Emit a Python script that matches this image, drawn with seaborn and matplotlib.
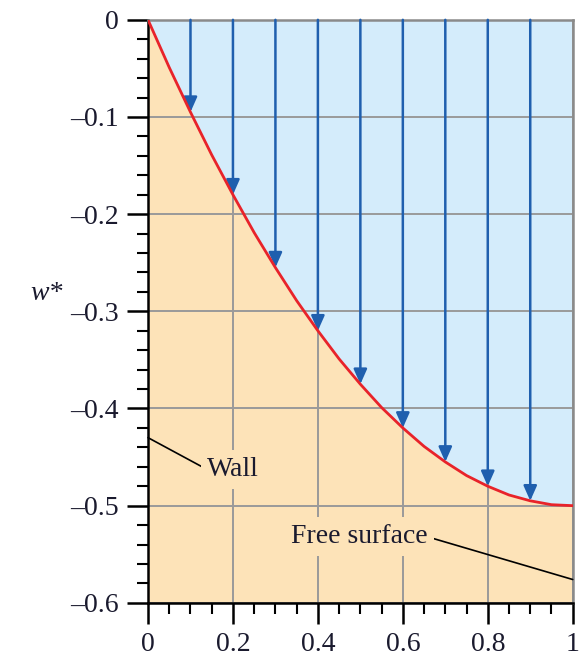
import numpy as np
import pandas as pd
import matplotlib
matplotlib.use("Agg")
import matplotlib.pyplot as plt
import seaborn as sns

# velocity profile
y_star = [0.0, 0.05, 0.1, 0.15, 0.2, 0.25, 0.3, 0.35, 0.4, 0.45, 0.5,
          0.55, 0.6, 0.65, 0.7, 0.75, 0.8, 0.85, 0.9, 0.95, 1.0]
w_star = [0.0, -0.049, -0.095, -0.139, -0.18, -0.219, -0.255, -0.289, -0.32, -0.349, -0.375,
          -0.399, -0.42, -0.439, -0.455, -0.469, -0.48, -0.489, -0.495, -0.499, -0.5]

# arrow positions and tip values
arrow_x = [0.1, 0.2, 0.3, 0.4, 0.5, 0.6, 0.7, 0.8, 0.9]
arrow_w = [-0.095, -0.18, -0.255, -0.32, -0.375, -0.42, -0.455, -0.48, -0.495]

x_ticks = [0, 0.2, 0.4, 0.6, 0.8, 1]
x_labels = ["0", "0.2", "0.4", "0.6", "0.8", "1"]
y_ticks = [0, -0.1, -0.2, -0.3, -0.4, -0.5, -0.6]
y_labels = ["0", "\u20130.1", "\u20130.2", "\u20130.3", "\u20130.4", "\u20130.5", "\u20130.6"]

sns.set_style("white")
plt.rcParams['font.family'] = ['Liberation Serif', 'DejaVu Serif']

blue_fill = "#d4ecfb"
orange_fill = "#fde3b8"
arrow_col = "#1f5fae"
text_col = "#1a1a2e"

df = pd.DataFrame({"y": y_star, "w": w_star})

fig = plt.figure(figsize=(5.85, 6.61), dpi=100)
ax = fig.add_axes([0.253, 0.088, 0.726, 0.882])

ax.fill_between(df["y"], df["w"], 0, color=blue_fill, lw=0, zorder=0)
ax.fill_between(df["y"], df["w"], -0.6, color=orange_fill, lw=0, zorder=0)

ax.set_xlim(0, 1)
ax.set_ylim(-0.6, 0)
ax.set_xticks(x_ticks)
ax.set_xticklabels(x_labels, fontsize=20, color=text_col)
ax.set_yticks(y_ticks)
ax.set_yticklabels(y_labels, fontsize=20, color=text_col)
ax.set_xticks(np.arange(0, 1.001, 0.05), minor=True)
ax.set_yticks(np.arange(-0.6, 0.001, 0.02), minor=True)
ax.grid(True, which="major", color="#9a9a9a", lw=1.4, zorder=1)
ax.tick_params(which="major", direction="out", length=15, width=1.8, color="black",
               left=True, bottom=True, pad=6)
ax.tick_params(which="minor", direction="out", length=8, width=1.5, color="black",
               left=True, bottom=True)

for xa, wa in zip(arrow_x, arrow_w):
    ax.annotate("", xy=(xa, wa), xytext=(xa, 0.0),
                arrowprops=dict(arrowstyle="-|>,head_length=0.9,head_width=0.4",
                                color=arrow_col, lw=1.8, shrinkA=0, shrinkB=0),
                zorder=3)

sns.lineplot(data=df, x="y", y="w", color="#e8232a", lw=2, ax=ax, zorder=4)

ax.set_xlabel("")
ax.set_ylabel("w*", fontsize=20, style="italic", rotation=0, labelpad=0, color=text_col)
ax.yaxis.set_label_coords(-0.24, 0.51)

# annotations
ax.annotate("Wall", xy=(0.0, -0.43), xytext=(0.14, -0.463), fontsize=20,
            va="center", ha="left", color=text_col,
            bbox=dict(boxstyle="square,pad=0.25", fc=orange_fill, ec="none"),
            arrowprops=dict(arrowstyle="-", color="black", lw=1.2, shrinkA=0, shrinkB=0,
                            relpos=(0.0, 0.5), patchA=None),
            zorder=5)
ax.annotate("Free surface", xy=(1.0, -0.576), xytext=(0.336, -0.532), fontsize=20,
            va="center", ha="left", color=text_col,
            bbox=dict(boxstyle="square,pad=0.25", fc=orange_fill, ec="none"),
            arrowprops=dict(arrowstyle="-", color="black", lw=1.2, shrinkA=0, shrinkB=0,
                            relpos=(1.0, 0.5), patchA=None),
            zorder=5)

for side in ["left", "bottom"]:
    ax.spines[side].set_color("black")
    ax.spines[side].set_linewidth(1.8)
for side in ["top", "right"]:
    ax.spines[side].set_color("#8a8a8a")
    ax.spines[side].set_linewidth(1.8)

fig.savefig("out.png", dpi=100)
